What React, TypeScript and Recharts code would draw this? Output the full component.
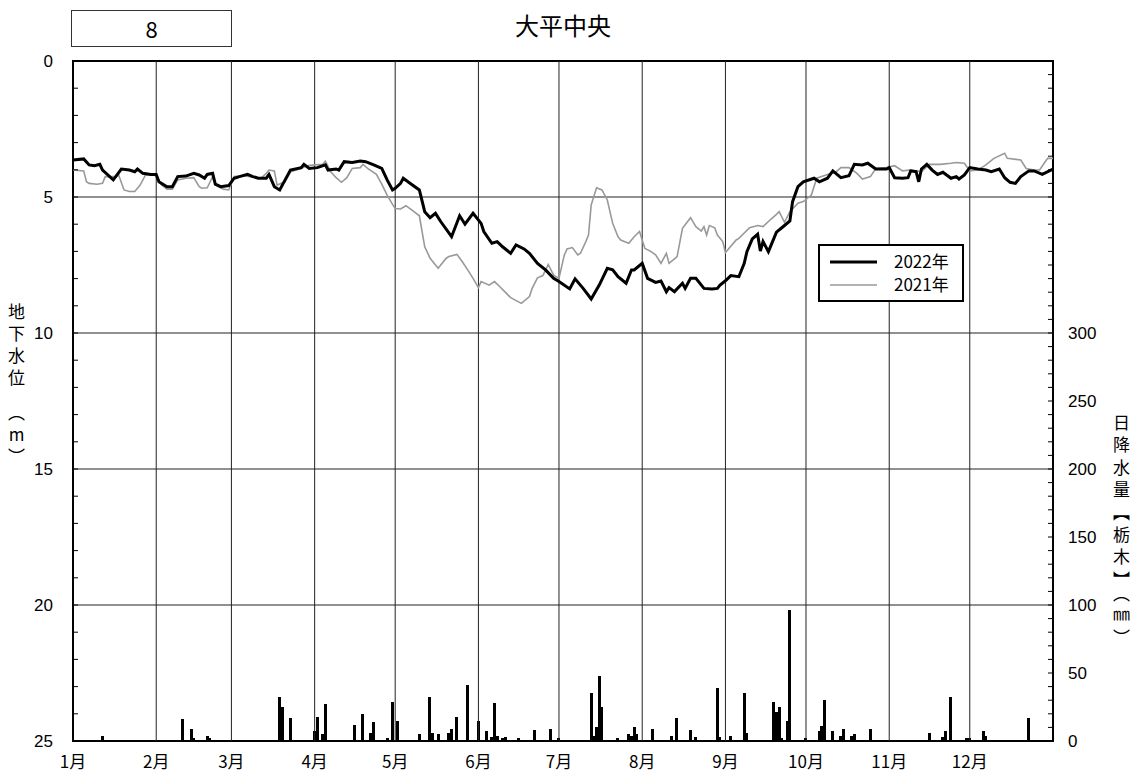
import React from "react";
import {
  Bar,
  ComposedChart,
  Legend,
  Line,
  ReferenceArea,
  ReferenceLine,
  XAxis,
  YAxis,
} from "recharts";

// month starts (day of year) and labels
const MONTH_DAY = [0, 31, 59, 90, 120, 151, 181, 212, 243, 273, 304, 334];
const MONTH_LABEL = ["1月", "2月", "3月", "4月", "5月", "6月", "7月", "8月", "9月", "10月", "11月", "12月"];

const LEVEL_GRID = [5, 10, 15, 20];
const LEVEL_TICKS = Array.from({ length: 26 }, (_, i) => i); // every 1 m, labelled every 5
const RAIN_TICKS = Array.from({ length: 51 }, (_, i) => i * 10); // every 10 mm, labelled every 50 up to 300

// groundwater level (m below surface), [day, value]
const LEVEL_2022: [number, number][] = [
  [0, 3.64], [4, 3.6], [6, 3.82], [8, 3.85], [10, 3.8], [11, 4.01], [15, 4.37], [18, 3.97], [21, 4.01], [23, 4.07],
  [24, 3.97], [26, 4.13], [29, 4.17], [31, 4.17], [32, 4.44], [35, 4.62], [37, 4.62], [39, 4.25], [42, 4.23], [45, 4.13],
  [47, 4.19], [49, 4.31], [50, 4.17], [52, 4.13], [53, 4.53], [55, 4.62], [58, 4.58], [60, 4.31], [62, 4.25], [65, 4.17],
  [67, 4.25], [69, 4.31], [72, 4.31], [73, 4.17], [75, 4.62], [77, 4.74], [79, 4.37], [81, 4.01], [85, 3.92], [86, 3.8],
  [88, 3.95], [91, 3.92], [94, 3.82], [95, 4.01], [98, 3.97], [99, 4.01], [101, 3.7], [104, 3.73], [107, 3.68], [109, 3.7],
  [112, 3.82], [115, 3.95], [117, 4.37], [119, 4.74], [120, 4.68], [122, 4.5], [123, 4.31], [125, 4.46], [129, 4.74], [131, 5.54],
  [133, 5.76], [135, 5.6], [137, 5.91], [141, 6.46], [144, 5.69], [146, 6.0], [149, 5.6], [152, 5.97], [153, 6.27], [156, 6.7],
  [158, 6.64], [160, 6.83], [163, 7.07], [165, 6.76], [168, 6.91], [170, 7.07], [173, 7.44], [176, 7.68], [179, 7.99], [181, 8.11],
  [185, 8.38], [187, 8.01], [190, 8.36], [193, 8.75], [196, 8.24], [199, 7.62], [201, 7.68], [203, 7.93], [206, 8.17], [208, 7.68],
  [209, 7.68], [212, 7.44], [214, 7.99], [217, 8.14], [219, 8.09], [221, 8.48], [222, 8.33], [224, 8.48], [227, 8.17], [228, 8.36],
  [230, 7.99], [232, 7.99], [235, 8.36], [238, 8.38], [240, 8.36], [241, 8.24], [243, 8.08], [245, 7.89], [248, 7.93], [250, 7.44],
  [251, 7.01], [253, 6.54], [255, 6.37], [256, 6.99], [257, 6.64], [259, 7.01], [262, 6.29], [264, 6.13], [267, 5.88], [268, 5.17],
  [270, 4.62], [272, 4.44], [276, 4.31], [278, 4.44], [281, 4.31], [283, 4.04], [286, 4.29], [289, 4.22], [291, 3.8], [294, 3.82],
  [296, 3.76], [299, 3.97], [303, 3.97], [304, 3.92], [306, 4.29], [309, 4.31], [311, 4.29], [312, 4.04], [314, 4.07], [315, 4.44],
  [316, 3.97], [318, 3.8], [320, 4.01], [322, 4.17], [324, 4.09], [327, 4.31], [329, 4.25], [330, 4.34], [332, 4.19], [334, 3.92],
  [337, 3.97], [340, 4.01], [342, 4.07], [345, 3.97], [347, 4.29], [349, 4.46], [351, 4.5], [353, 4.25], [356, 4.04], [358, 4.04],
  [361, 4.17], [365, 3.97],
];

const LEVEL_2021: [number, number][] = [
  [0, 4.01], [4, 4.04], [5, 4.44], [6, 4.5], [9, 4.53], [11, 4.5], [12, 4.25], [14, 4.25], [16, 4.25], [17, 4.19],
  [19, 4.74], [21, 4.8], [23, 4.8], [25, 4.56], [27, 4.19], [29, 4.17], [31, 4.22], [33, 4.56], [35, 4.71], [37, 4.71],
  [39, 4.37], [42, 4.31], [45, 4.29], [47, 4.62], [48, 4.68], [50, 4.66], [52, 4.25], [53, 4.56], [56, 4.71], [58, 4.74],
  [60, 4.25], [63, 4.22], [66, 4.25], [70, 4.31], [72, 4.13], [73, 4.01], [75, 4.04], [76, 4.56], [79, 4.44], [81, 4.07],
  [85, 3.95], [87, 3.85], [90, 3.82], [93, 3.8], [94, 3.68], [96, 4.07], [98, 4.29], [100, 4.46], [102, 4.29], [104, 3.95],
  [107, 3.92], [108, 3.8], [110, 3.97], [113, 4.17], [115, 4.53], [117, 4.93], [119, 5.27], [120, 5.42], [122, 5.44], [124, 5.32],
  [127, 5.54], [129, 5.69], [131, 6.83], [133, 7.25], [136, 7.62], [139, 7.25], [140, 7.19], [143, 7.11], [145, 7.38], [147, 7.68],
  [149, 7.99], [151, 8.33], [152, 8.11], [155, 8.24], [157, 8.11], [159, 8.3], [163, 8.7], [167, 8.91], [170, 8.66], [171, 8.36],
  [173, 7.97], [175, 7.89], [177, 7.48], [179, 7.87], [181, 7.99], [183, 7.13], [184, 6.91], [186, 6.86], [188, 7.13], [189, 7.07],
  [191, 6.64], [192, 6.4], [193, 5.29], [195, 4.66], [197, 4.74], [199, 5.11], [201, 5.97], [203, 6.46], [204, 6.58], [207, 6.7],
  [209, 6.46], [211, 6.27], [213, 6.89], [215, 6.99], [217, 7.13], [219, 7.44], [221, 7.07], [222, 7.44], [225, 7.19], [227, 6.15],
  [230, 5.76], [232, 6.09], [234, 6.25], [235, 6.09], [236, 6.4], [237, 6.05], [239, 6.13], [240, 6.4], [242, 6.64], [243, 7.04],
  [247, 6.58], [248, 6.52], [252, 6.13], [255, 6.05], [257, 6.09], [260, 5.81], [262, 5.64], [263, 5.54], [265, 5.93], [267, 5.54],
  [270, 5.23], [272, 5.17], [275, 4.93], [277, 4.31], [281, 4.17], [284, 4.09], [286, 3.92], [289, 3.92], [292, 4.13], [294, 4.34],
  [297, 4.25], [299, 3.95], [303, 3.92], [306, 3.85], [309, 4.04], [312, 4.01], [316, 4.07], [319, 3.8], [323, 3.8], [327, 3.76],
  [329, 3.73], [332, 3.76], [334, 4.04], [337, 4.01], [340, 3.82], [343, 3.58], [347, 3.39], [348, 3.58], [353, 3.64], [355, 3.95],
  [358, 4.01], [360, 4.01], [363, 3.58], [365, 3.58],
];

// daily precipitation at Tochigi (mm), [day, value]
const RAIN: [number, number][] = [
  [11, 4], [41, 16], [44, 9], [45, 2], [50, 4], [51, 2], [74, 1], [77, 32], [78, 25], [81, 17],
  [86, 1], [90, 7], [91, 18], [93, 5], [94, 27], [95, 1], [104, 1], [105, 12], [108, 20], [111, 6],
  [112, 14], [116, 1], [117, 2], [119, 29], [121, 15], [129, 5], [133, 32], [134, 6], [136, 5], [140, 6],
  [141, 9], [143, 18], [147, 41], [151, 15], [154, 7], [156, 3], [157, 28], [158, 4], [160, 2], [161, 3],
  [163, 1], [166, 2], [172, 8], [175, 1], [178, 9], [181, 2], [184, 1], [185, 1], [188, 0.5], [193, 35],
  [194, 4], [195, 10], [196, 48], [197, 25], [198, 1], [202, 1], [203, 2.5], [207, 5], [208, 4], [209, 10],
  [210, 5], [216, 9], [219, 1], [223, 4], [225, 17], [230, 8], [232, 3], [236, 0.5], [239, 0.5], [240, 39],
  [241, 3], [245, 4], [250, 35], [251, 6], [253, 0.5], [261, 29], [262, 21], [263, 25], [264, 2], [266, 15],
  [267, 96], [273, 2], [278, 7], [279, 11], [280, 30], [283, 7], [286, 4], [287, 9], [290, 4], [291, 5],
  [296, 1], [297, 9], [308, 1], [319, 6], [324, 3], [325, 7], [327, 32], [328, 1], [333, 2.5], [334, 2.5],
  [339, 7], [340, 4], [347, 0.5], [351, 0.5], [356, 17],
];

const NUM_FONT = "'Liberation Sans', Arial, sans-serif";
const JP_FONT = "'Noto Sans CJK JP', sans-serif";
const GRID = "#222";

// merge everything into one table keyed by day
const byDay = new Map<number, any>();
const row = (d: number) => {
  if (!byDay.has(d)) byDay.set(d, { day: d });
  return byDay.get(d);
};
LEVEL_2022.forEach(([d, v]) => (row(d).y2022 = v));
LEVEL_2021.forEach(([d, v]) => (row(d).y2021 = v));
RAIN.forEach(([d, v]) => (row(d).rain = v));
const data = [...byDay.values()].sort((a, b) => a.day - b.day);

const LeftTick = (p: any) => {
  const v = p.payload.value;
  return (
    <g>
      <line x1={p.x} x2={p.x + 5} y1={p.y} y2={p.y} stroke="#000" />
      {v % 5 === 0 && (
        <text x={p.x - 20} y={p.y} dy="0.35em" textAnchor="end" fontSize={17} fontFamily={NUM_FONT} fill="#000">
          {v}
        </text>
      )}
    </g>
  );
};

const RightTick = (p: any) => {
  const v = p.payload.value;
  return (
    <g>
      <line x1={p.x - 5} x2={p.x} y1={p.y} y2={p.y} stroke="#000" />
      {v % 50 === 0 && v <= 300 && (
        <text x={p.x + 15} y={p.y} dy="0.35em" textAnchor="start" fontSize={17} fontFamily={NUM_FONT} fill="#000">
          {v}
        </text>
      )}
    </g>
  );
};

const MonthTick = (p: any) => (
  <text x={p.x} y={p.y + 21} dy="0.35em" textAnchor="middle" fontSize={17} fontFamily={JP_FONT} fill="#000">
    {MONTH_LABEL[MONTH_DAY.indexOf(p.payload.value)]}
  </text>
);

// one-day-wide bar (3px), centred on its day, snapped to whole pixels
const RainBar = (p: any) => {
  if (!(p.height > 0)) return null;
  const cx = p.x + p.width / 2;
  return <rect x={Math.round(cx - 1.5)} y={p.y} width={3} height={p.height} fill="#000" shapeRendering="crispEdges" />;
};

const LegendBox = ({ payload }: any) => {
  const items = (payload || [])
    .filter((p: any) => p.type !== "none")
    .sort((a: any, b: any) => String(b.value).localeCompare(String(a.value)));
  return (
    <div style={{ width: 146, height: 58, border: "2px solid #000", background: "#fff", boxSizing: "border-box" }}>
      <svg width={142} height={54}>
        {items.map((it: any, i: number) => (
          <g key={it.value}>
            <line x1={10} x2={57} y1={16 + i * 23} y2={16 + i * 23} stroke={it.color} strokeWidth={it.payload?.strokeWidth ?? 2} />
            <text x={74} y={16 + i * 23} dy="0.35em" fontSize={17} fontFamily={JP_FONT} fill="#000">
              {it.value}
            </text>
          </g>
        ))}
      </svg>
    </div>
  );
};

export default function App() {
  return (
    <div style={{ position: "absolute", left: 0, top: 0, width: 1144, height: 782, background: "#fff", fontFamily: JP_FONT }}>
      <div
        style={{
          position: "absolute", left: 71, top: 10, width: 161, height: 37, border: "1px solid #333",
          boxSizing: "border-box", textAlign: "center", fontSize: 22, lineHeight: "35px", color: "#000",
        }}
      >
        8
      </div>
      <div style={{ position: "absolute", left: 463, top: 13, width: 200, textAlign: "center", fontSize: 24, lineHeight: 1, color: "#000" }}>
        大平中央
      </div>
      <div
        style={{
          position: "absolute", left: 8, top: 303, writingMode: "vertical-rl", textOrientation: "upright",
          fontSize: 17, letterSpacing: 5, lineHeight: 1, color: "#000",
        }}
      >
        地下水位　（m）
      </div>
      <div
        style={{
          position: "absolute", left: 1113, top: 414, writingMode: "vertical-rl", textOrientation: "upright",
          fontSize: 17, letterSpacing: 5.4, lineHeight: 1, color: "#000",
        }}
      >
        日降水量【栃木】（㎜）
      </div>

      <ComposedChart width={1144} height={782} data={data} margin={{ top: 61, right: 0, bottom: 0, left: 0 }}>
        <XAxis
          dataKey="day"
          type="number"
          domain={[0, 365]}
          ticks={MONTH_DAY}
          interval={0}
          height={41}
          tick={<MonthTick />}
          tickLine={false}
          axisLine={false}
          tickSize={0}
          tickMargin={0}
          allowDataOverflow
        />
        <YAxis
          yAxisId="left"
          type="number"
          domain={[0, 25]}
          reversed
          ticks={LEVEL_TICKS}
          interval={0}
          width={73}
          tick={<LeftTick />}
          tickLine={false}
          axisLine={false}
          tickSize={0}
          tickMargin={0}
          allowDataOverflow
        />
        <YAxis
          yAxisId="right"
          orientation="right"
          type="number"
          domain={[0, 500]}
          ticks={RAIN_TICKS}
          interval={0}
          width={91}
          tick={<RightTick />}
          tickLine={false}
          axisLine={false}
          tickSize={0}
          tickMargin={0}
          allowDataOverflow
        />

        {LEVEL_GRID.map((v) => (
          <ReferenceLine key={`h${v}`} yAxisId="left" y={v} stroke={GRID} strokeWidth={1} />
        ))}
        {MONTH_DAY.slice(1).map((d) => (
          <ReferenceLine key={`v${d}`} yAxisId="left" x={d} stroke={GRID} strokeWidth={1} />
        ))}

        <Bar yAxisId="right" dataKey="rain" fill="#000" barSize={3} shape={RainBar} legendType="none" isAnimationActive={false} />
        <Line
          yAxisId="left"
          dataKey="y2021"
          name="2021年"
          type="linear"
          stroke="#999"
          strokeWidth={1.6}
          dot={false}
          connectNulls
          isAnimationActive={false}
        />
        <Line
          yAxisId="left"
          dataKey="y2022"
          name="2022年"
          type="linear"
          stroke="#000"
          strokeWidth={3}
          dot={false}
          connectNulls
          isAnimationActive={false}
        />

        <ReferenceArea yAxisId="left" x1={0} x2={365} y1={0} y2={25} fill="none" stroke="#000" strokeWidth={2} ifOverflow="visible" />

        <Legend
          layout="horizontal"
          verticalAlign="middle"
          align="center"
          content={<LegendBox />}
          wrapperStyle={{ left: 818, top: 244, width: 146, height: 58 }}
        />
      </ComposedChart>
    </div>
  );
}
